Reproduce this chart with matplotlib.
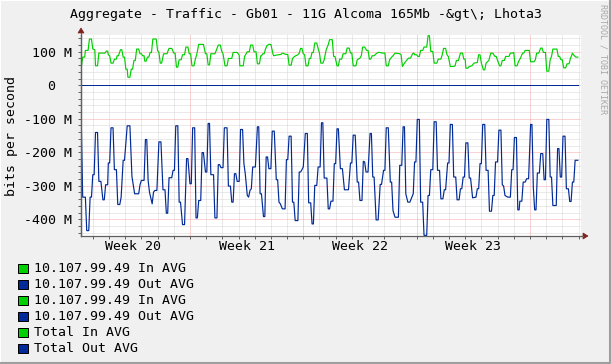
import matplotlib
matplotlib.use("Agg")
import matplotlib.pyplot as plt
from matplotlib.patches import Rectangle, Polygon
from matplotlib.lines import Line2D
from matplotlib.ticker import FixedLocator

# ---------------- data (hours since start of Week 20, Mbit/s) ----------------
in_hours = [7, 9, 12, 13, 17, 19, 22, 24, 27, 28, 31, 33, 42, 44, 46, 47, 49, 51, 54, 56, 59, 60, 62, 65, 67, 69, 71, 73, 75, 76, 79, 81, 83, 85, 87, 89, 92, 94, 96, 98, 100, 101, 103, 105, 107, 109, 111, 113, 118, 120, 122, 124, 126,
            129, 134, 135, 137, 141, 144, 146, 148, 150, 152, 155, 157, 160, 162, 165, 167, 169, 171, 174, 176, 178, 181, 188, 191, 193, 195, 197, 199, 205, 207, 210, 213, 215, 217, 220, 223, 225, 230, 232, 238, 241, 242, 247, 249,
            253, 256, 258, 261, 263, 266, 268, 271, 273, 274, 276, 278, 280, 282, 285, 288, 291, 292, 296, 303, 305, 308, 310, 313, 315, 318, 320, 323, 325, 328, 330, 332, 334, 336, 338, 340, 343, 345, 347, 349, 351, 353, 356, 358, 360, 362, 365, 367, 370, 373,
            375, 379, 381, 383, 386, 388, 390, 393, 395, 399, 401, 404, 406, 408, 410, 414, 416, 420, 422, 424, 427, 430, 432, 434, 436, 438, 441, 444, 447, 449, 454, 457, 459, 462, 464, 467, 469, 472, 479, 481, 483, 486, 489, 492, 495, 498,
            500, 501, 504, 506, 508, 510, 513, 515, 519, 521, 523, 525, 528, 530, 534, 536, 540, 542, 544, 547, 549, 551, 554, 559, 561, 563, 566, 569, 572, 574, 576, 577, 580, 582, 586, 589, 594, 596, 598, 600, 603, 605, 607, 609, 611, 614, 617, 620, 622,
            624, 627, 629, 631, 634, 636, 641, 643, 646, 648, 650, 653, 655, 656, 658, 661, 663, 665, 671, 673, 678, 680, 682, 685, 688, 690, 692, 695, 697, 700, 702, 704, 706, 712, 714, 716, 718, 720, 722, 725, 727, 730, 732, 734, 735, 737, 740, 743]
in_mbps = [54, 84, 84, 104, 104, 138, 138, 108, 106, 58, 58, 96, 96, 102, 102, 91, 88, 66, 66, 78, 78, 88, 88, 106, 106, 84, 84, 48, 48, 24, 24, 48, 48, 74, 74, 108, 108, 94, 94, 88, 88, 72, 72, 84, 84, 98, 98, 138, 138, 104, 98, 66, 66,
           94, 94, 100, 110, 110, 96, 96, 54, 54, 76, 76, 91, 91, 114, 114, 94, 94, 58, 58, 78, 91, 122, 122, 94, 94, 61, 61, 94, 94, 104, 120, 120, 102, 94, 58, 58, 80, 80, 98, 98, 90, 58, 58, 86,
           100, 100, 120, 120, 100, 100, 64, 64, 88, 88, 94, 94, 108, 118, 122, 122, 94, 88, 90, 92, 96, 94, 92, 92, 60, 60, 80, 86, 88, 91, 96, 110, 110, 94, 91, 58, 58, 80, 80, 98, 98, 126, 126, 110, 96, 66, 66, 76, 106, 121,
           136, 136, 86, 86, 58, 58, 78, 78, 94, 94, 111, 111, 96, 96, 58, 58, 76, 81, 88, 114, 114, 104, 104, 78, 78, 88, 88, 94, 98, 98, 96, 96, 58, 58, 76, 84, 88, 96, 94, 91, 56, 66, 74, 81, 81, 94,
           96, 91, 91, 86, 86, 104, 104, 114, 114, 148, 148, 101, 101, 66, 66, 78, 78, 91, 110, 110, 91, 86, 56, 56, 58, 74, 74, 96, 96, 78, 78, 51, 51, 56, 58, 66, 68, 91, 91, 66, 46, 46, 66, 70, 74, 96, 96, 86, 86,
           74, 58, 58, 74, 74, 86, 86, 96, 96, 98, 58, 58, 71, 74, 81, 96, 96, 104, 104, 70, 70, 76, 96, 96, 111, 111, 98, 98, 42, 42, 76, 86, 108, 108, 86, 86, 76, 76, 52, 52, 64, 64, 80, 90, 96, 90, 84, 84]

out_hours = [7, 9, 13, 15, 18, 20, 22, 24, 26, 28, 31, 33, 36, 39, 41, 43, 46, 47, 49, 51, 54, 56, 59, 61, 64, 66, 69, 71, 75, 79, 82, 84, 86, 92, 94, 96, 100, 102, 104, 106, 108, 112, 114, 116, 119, 122, 125,
             128, 131, 133, 135, 137, 141, 143, 145, 147, 150, 152, 154, 157, 160, 163, 165, 168, 170, 172, 175, 177, 179, 181, 184, 186, 188, 191, 193, 195, 197, 199, 203, 205, 208, 210, 212, 214, 217, 219, 223, 225, 228, 230, 232, 234, 236, 238, 241, 243, 246, 248, 250,
             253, 255, 257, 259, 261, 265, 268, 270, 272, 274, 277, 279, 281, 283, 285, 288, 290, 293, 296, 298, 300, 302, 305, 309, 311, 313, 315, 318, 320, 322, 324, 328, 330, 332, 334, 336, 339, 342, 344, 347, 349, 351, 353, 356, 358, 361, 363, 365, 367, 371, 373,
             375, 377, 380, 382, 384, 386, 388, 391, 394, 397, 403, 406, 408, 410, 413, 416, 418, 420, 423, 425, 427, 429, 432, 435, 437, 439, 441, 444, 447, 450, 452, 455, 457, 459, 462, 465, 467, 469, 472, 477, 479, 482, 484, 486, 488, 491, 494, 496, 499,
             501, 503, 505, 508, 510, 513, 515, 519, 521, 523, 525, 528, 530, 533, 535, 538, 540, 543, 545, 547, 550, 552, 554, 557, 559, 562, 564, 567, 569, 571, 573, 575, 577, 580, 582, 584, 587, 592, 594, 596, 598, 600, 602, 605, 607, 610, 612, 615, 617, 619, 621,
             624, 626, 629, 631, 633, 635, 639, 643, 645, 647, 649, 652, 654, 656, 657, 660, 662, 665, 667, 670, 673, 675, 677, 679, 681, 683, 686, 688, 691, 693, 695, 697, 700, 702, 704, 706, 711, 713, 715, 717, 719, 721, 724, 726, 729, 731, 733, 735, 737, 739, 743]
out_mbps = [-119, -334, -334, -434, -434, -334, -334, -267, -267, -141, -141, -287, -287, -342, -342, -297, -297, -232, -232, -127, -127, -252, -252, -356, -356, -334, -224, -224, -121, -121, -272, -297, -324, -324, -297, -284, -284, -162, -162, -284, -319, -354, -319, -314, -314, -169, -169,
            -312, -312, -382, -382, -276, -276, -254, -254, -121, -121, -349, -349, -416, -416, -219, -219, -294, -294, -127, -127, -396, -396, -344, -344, -201, -201, -259, -259, -114, -114, -267, -267, -396, -396, -237, -237, -246, -246, -127, -127, -301, -301, -349, -349, -264, -264, -287, -287, -132, -132, -234, -264,
            -329, -334, -314, -309, -244, -244, -124, -124, -324, -324, -392, -392, -214, -214, -249, -249, -137, -137, -282, -282, -349, -354, -369, -369, -222, -222, -152, -152, -349, -349, -404, -404, -259, -259, -252, -244, -144, -144, -351, -351, -414, -414, -299, -299, -244, -244, -112, -112, -277, -277, -369,
            -369, -346, -346, -234, -234, -130, -130, -249, -249, -312, -312, -232, -232, -149, -149, -289, -289, -344, -344, -227, -229, -259, -259, -144, -144, -274, -274, -402, -402, -296, -296, -254, -254, -127, -127, -289, -289, -374, -394, -394, -239, -239, -124, -124, -324, -349, -349, -339, -324,
            -229, -229, -102, -102, -349, -349, -448, -448, -329, -329, -252, -252, -109, -109, -254, -254, -339, -339, -312, -312, -232, -232, -117, -117, -274, -274, -342, -342, -309, -309, -274, -274, -172, -172, -277, -277, -336, -334, -309, -309, -234, -234, -117, -117, -254, -254, -376, -376, -329, -329, -229,
            -229, -134, -134, -297, -301, -329, -334, -334, -252, -252, -156, -156, -372, -372, -346, -346, -289, -289, -279, -279, -117, -117, -304, -372, -372, -262, -262, -204, -204, -282, -282, -102, -102, -274, -274, -359, -359, -189, -189, -274, -274, -152, -152, -309, -309, -347, -347, -289, -289, -224, -224]

# second interface (idle) traffic
idle_hours = [7, 743]
idle_in_mbps = [0, 0]
idle_out_mbps = [0, 0]

week_labels = ["Week 20", "Week 21", "Week 22", "Week 23"]
week_centers = [84, 252, 420, 588]
week_bounds = [168, 336, 504, 672]
ytick_vals = [100, 0, -100, -200, -300, -400]
ytick_labels = ["100 M", "0  ", "-100 M", "-200 M", "-300 M", "-400 M"]
legend_labels = ["10.107.99.49 In AVG", "10.107.99.49 Out AVG", "10.107.99.49 In AVG",
                 "10.107.99.49 Out AVG", "Total In AVG", "Total Out AVG"]
GREEN = "#00CF00"
BLUE = "#002A97"
legend_colors = [GREEN, BLUE, GREEN, BLUE, GREEN, BLUE]

# ---------------- figure ----------------
W, H = 611, 364
MONO = "DejaVu Sans Mono"
FS = 9.5
fig = plt.figure(figsize=(W / 100, H / 100), dpi=100, facecolor="#F0F0F0")

def fx(px):
    return px / W

def fy(py):
    return 1 - py / H

# frame shading
fig.add_artist(Line2D([0, 0, 1], [0, 1, 1], transform=fig.transFigure, color="#FFFFFF", lw=1.5))
fig.add_artist(Line2D([fx(1), fx(W - 1.5), fx(W - 1.5)], [fy(H - 1.5), fy(H - 1.5), fy(1)],
                      transform=fig.transFigure, color="#9E9E9E", lw=1.5))

ax = fig.add_axes([fx(81), fy(236), 500 / W, 201 / H])
ax.set_facecolor("white")
ax.set_xlim(6.5, 747.7)
ax.set_ylim(-450, 150)

dot = (0, (1, 1))
for h in range(24, 748, 24):
    if h in week_bounds:
        ax.axvline(h, color="#F5A8A8", lw=0.72, ls=dot, zorder=0.6)
    else:
        ax.axvline(h, color="#D6D6D6", lw=0.72, ls=dot, zorder=0.5)
for v in range(-440, 150, 20):
    if v % 100 == 0:
        ax.axhline(v, color="#F5A8A8", lw=0.72, ls=dot, zorder=0.6)
    else:
        ax.axhline(v, color="#D6D6D6", lw=0.72, ls=dot, zorder=0.5)

ax.plot(in_hours, in_mbps, color=GREEN, lw=0.85, zorder=3)
ax.plot(out_hours, out_mbps, color=BLUE, lw=0.85, zorder=3)
ax.plot(idle_hours, idle_in_mbps, color=GREEN, lw=0.5, zorder=3.1, antialiased=False)
ax.plot(idle_hours, idle_out_mbps, color=BLUE, lw=0.5, zorder=3.2, antialiased=False)

for s in ["top", "right"]:
    ax.spines[s].set_visible(False)
for s in ["left", "bottom"]:
    ax.spines[s].set_color("#606060")
    ax.spines[s].set_linewidth(0.9)

ax.set_xticks(week_centers)
ax.set_xticklabels(week_labels, fontfamily=MONO, fontsize=FS)
ax.xaxis.set_minor_locator(FixedLocator(list(range(24, 748, 24))))
ax.tick_params(axis="x", which="major", length=0, pad=3)
ax.tick_params(axis="x", which="minor", length=2, color="#606060", width=0.7)

ax.set_yticks(ytick_vals)
ax.set_yticklabels(ytick_labels, fontfamily=MONO, fontsize=FS)
ax.yaxis.set_minor_locator(FixedLocator(list(range(-440, 150, 20))))
ax.tick_params(axis="y", which="major", length=2, color="#606060", width=0.7, pad=4.3)
ax.tick_params(axis="y", which="minor", length=2, color="#606060", width=0.7)

# axis arrows
ARROW = "#7F1F1F"
fig.add_artist(Polygon([[fx(78), fy(33)], [fx(84), fy(33)], [fx(81), fy(28)]], closed=True,
                       transform=fig.transFigure, facecolor=ARROW, edgecolor=ARROW, lw=0.5))
fig.add_artist(Line2D([fx(81), fx(81)], [fy(236), fy(33)], transform=fig.transFigure, color="#606060", lw=0.9))
fig.add_artist(Line2D([fx(581), fx(583)], [fy(236), fy(236)], transform=fig.transFigure, color="#606060", lw=0.9))
fig.add_artist(Polygon([[fx(583), fy(233)], [fx(583), fy(239)], [fx(588), fy(236)]], closed=True,
                       transform=fig.transFigure, facecolor=ARROW, edgecolor=ARROW, lw=0.5))

# texts
fig.text(fx(305.5), fy(14.3), "Aggregate - Traffic - Gb01 - 11G Alcoma 165Mb -&gt\\; Lhota3",
         ha="center", va="center", fontfamily=MONO, fontsize=FS, color="#000000")
fig.text(fx(12), fy(136), "bits per second", rotation=90, ha="center", va="center",
         fontfamily=MONO, fontsize=FS)
fig.text(fx(603.5), fy(4), "RRDTOOL / TOBI OETIKER", rotation=270, ha="center", va="top",
         fontfamily=MONO, fontsize=6, color="#A8A8A8")

for i, (lab, col) in enumerate(zip(legend_labels, legend_colors)):
    yc = 268.2 + 16 * i
    fig.add_artist(Rectangle((fx(17.5), fy(yc + 4.5)), 10 / W, 9 / H, transform=fig.transFigure,
                             facecolor=col, edgecolor="black", lw=0.72))
    fig.text(fx(33.5), fy(yc), lab, ha="left", va="center", fontfamily=MONO, fontsize=FS)

fig.savefig("out.png", dpi=100, facecolor=fig.get_facecolor())
